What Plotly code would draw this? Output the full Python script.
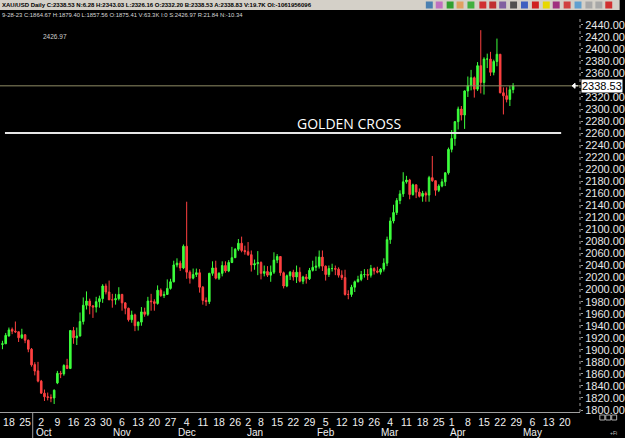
import plotly.graph_objects as go
import pandas as pd

# ---------------- data ----------------
first_day = "2023-09-14"
axis_last_day = "2024-05-24"
holidays = ["2023-12-25", "2024-01-01", "2024-03-29"]

open_ = [
    1909, 1910,
    1923, 1934, 1931, 1930, 1920,
    1925, 1916, 1901, 1875.41, 1865,
    1848, 1828, 1822, 1821, 1820,
    1845, 1861, 1860, 1874, 1869,
    1932, 1920, 1923, 1947, 1974,
    1981, 1973, 1971, 1980, 1985,
    2006, 1996, 1983, 1983, 1985,
    1992, 1978, 1969, 1950, 1958,
    1940, 1946, 1963, 1959, 1981,
    1980, 1977, 1999, 1990, 1992,
    2002, 2013, 2041, 2044, 2036,
    2072, 2029, 2019, 2025, 2028,
    2004, 1982, 1980, 2027, 2036,
    2019, 2027, 2040, 2031, 2045,
    2053, 2067, 2077, 2065,
    2063, 2058, 2041, 2043,
    2045, 2027, 2030, 2024, 2029,
    2049, 2055, 2028, 2006, 2023,
    2029, 2021, 2029, 2014, 2021,
    2018, 2032, 2037, 2039, 2054,
    2039, 2025, 2035, 2035, 2034,
    2024, 2020, 1992, 1992, 2004,
    2013, 2017, 2025, 2025, 2024,
    2035, 2031, 2029, 2034, 2044,
    2083, 2114, 2128, 2148, 2159,
    2179, 2182, 2158, 2174, 2162,
    2155, 2160, 2157, 2186, 2181,
    2165, 2172, 2179, 2194,
    2233, 2251, 2279, 2300, 2290,
    2330, 2339, 2352, 2333, 2372,
    2344, 2383, 2383, 2361, 2379,
    2391, 2327, 2322, 2316, 2332.20,
]
high_ = [
    1915, 1928,
    1937, 1937, 1947, 1930, 1935,
    1926, 1917, 1903, 1879.40, 1880,
    1850, 1834, 1829, 1826, 1834,
    1865, 1865, 1876, 1885, 1933,
    1938, 1937, 1962, 1987, 1997,
    1985, 1974, 1988, 1990, 2009,
    2010, 2015, 1993, 1993, 2004,
    1993, 1979, 1970, 1965, 1960,
    1947, 1971, 1970, 1988, 1993,
    1984, 2007, 2002, 1997, 2017,
    2018, 2048, 2052, 2048, 2075,
    2146, 2032, 2035, 2035, 2034,
    2006, 1987, 2028, 2047, 2048,
    2029, 2047, 2047, 2049, 2071,
    2069, 2084, 2088, 2073,
    2079, 2065, 2050, 2064,
    2047, 2040, 2039, 2040, 2062,
    2059, 2055, 2030, 2025, 2031,
    2033, 2040, 2037, 2023, 2026,
    2036, 2048, 2055, 2065, 2065,
    2040, 2040, 2043, 2040, 2037,
    2032, 2033, 1999, 2008, 2015,
    2023, 2031, 2034, 2034, 2041,
    2037, 2038, 2036, 2052, 2088,
    2120, 2141, 2152, 2165, 2195,
    2189, 2184, 2176, 2175, 2168,
    2164, 2163, 2189, 2222, 2181,
    2175, 2184, 2195, 2236,
    2265, 2280, 2304, 2305, 2331,
    2354, 2365, 2354, 2378, 2431,
    2386, 2392, 2395, 2382, 2417,
    2391, 2336, 2336, 2338, 2343.03,
]
low_ = [
    1901, 1910,
    1922, 1926, 1928, 1913, 1918,
    1911, 1896, 1872, 1857.56, 1846,
    1827, 1815, 1816, 1813, 1810,
    1843, 1853, 1857, 1868, 1868,
    1910, 1908, 1922, 1942, 1967,
    1959, 1953, 1962, 1970, 1978,
    1992, 1985, 1970, 1975, 1982,
    1965, 1959, 1947, 1945, 1931,
    1932, 1940, 1955, 1956, 1965,
    1965, 1975, 1988, 1986, 1991,
    2000, 2012, 2037, 2031, 2034,
    2018, 2010, 2017, 2021, 1995,
    1975, 1973, 1976, 2023, 2017,
    2016, 2022, 2028, 2029, 2044,
    2053, 2064, 2062, 2058,
    2056, 2030, 2033, 2024,
    2017, 2022, 2021, 2013, 2026,
    2044, 2023, 2002, 2004, 2016,
    2015, 2011, 2012, 2009, 2010,
    2016, 2030, 2031, 2035, 2031,
    2015, 2021, 2030, 2024, 2020,
    2016, 1990, 1984, 1988, 1996,
    2012, 2014, 2020, 2016, 2020,
    2025, 2027, 2025, 2030, 2039,
    2076, 2110, 2124, 2142, 2154,
    2176, 2150, 2156, 2152, 2153,
    2146, 2146, 2146, 2179, 2156,
    2162, 2170, 2172, 2191,
    2228, 2239, 2266, 2281, 2267,
    2320, 2331, 2319, 2330, 2326,
    2324, 2368, 2355, 2356, 2371,
    2326, 2291, 2311, 2305, 2326.16,
]
close_ = [
    1910, 1924,
    1933, 1931, 1930, 1920, 1925,
    1916, 1901, 1875, 1864.67, 1848,
    1828, 1822, 1821, 1820, 1833,
    1861, 1860, 1874, 1869, 1932,
    1920, 1923, 1947, 1974, 1981,
    1973, 1971, 1980, 1985, 2006,
    1996, 1983, 1983, 1985, 1992,
    1978, 1969, 1950, 1958, 1940,
    1946, 1963, 1959, 1981, 1980,
    1977, 1999, 1990, 1992, 2002,
    2013, 2041, 2044, 2036, 2072,
    2029, 2019, 2025, 2028, 2004,
    1982, 1980, 2027, 2036, 2019,
    2027, 2040, 2031, 2045, 2053,
    2067, 2077, 2065, 2063,
    2058, 2041, 2043, 2045,
    2027, 2030, 2024, 2029, 2049,
    2055, 2028, 2006, 2023, 2029,
    2021, 2029, 2014, 2021, 2018,
    2032, 2037, 2039, 2054, 2039,
    2025, 2035, 2035, 2034, 2024,
    2020, 1992, 1992, 2004, 2013,
    2017, 2025, 2025, 2024, 2035,
    2031, 2029, 2034, 2044, 2083,
    2114, 2128, 2148, 2159, 2179,
    2182, 2158, 2174, 2162, 2155,
    2160, 2157, 2186, 2181, 2165,
    2172, 2179, 2194, 2233,
    2251, 2279, 2300, 2290, 2330,
    2339, 2352, 2333, 2372, 2344,
    2383, 2383, 2361, 2379, 2391,
    2327, 2322, 2316, 2332, 2338.53,
]

week_label_dates = [
    "2023-09-18", "2023-09-25", "2023-10-02", "2023-10-09", "2023-10-16",
    "2023-10-23", "2023-10-30", "2023-11-06", "2023-11-13", "2023-11-20",
    "2023-11-27", "2023-12-04", "2023-12-11", "2023-12-18", "2023-12-26",
    "2024-01-02", "2024-01-08", "2024-01-15", "2024-01-22", "2024-01-29",
    "2024-02-05", "2024-02-12", "2024-02-19", "2024-02-26", "2024-03-04",
    "2024-03-11", "2024-03-18", "2024-03-25", "2024-04-01", "2024-04-08",
    "2024-04-15", "2024-04-22", "2024-04-29", "2024-05-06", "2024-05-13",
    "2024-05-20",
]
month_label_dates = ["2023-10-03", "2023-11-06", "2023-12-04", "2024-01-04",
                     "2024-02-05", "2024-03-04", "2024-04-03", "2024-05-06"]
month_label_text = ["Oct", "Nov", "Dec", "Jan", "Feb", "Mar", "Apr", "May"]

last_price = 2338.53
golden_cross_level = 2260
y_ticks = list(range(1800, 2441, 20))

header_text = ("XAU/USD Daily C:2338.53 N:6.28 H:2343.03 L:2326.16 O:2332.20 "
               "B:2338.53 A:2338.83 V:19.7K OI:-1061956096")
cursor_text = ("9-28-23 C:1864.67 H:1879.40 L:1857.56 O:1875.41 V:63.3K I:0 "
               "S:2426.97 R:21.84 N:-10.34")

# ---------------- derived ----------------
days = pd.bdate_range(first_day, axis_last_day, freq="C", holidays=holidays)
day_str = [d.strftime("%Y-%m-%d") for d in days]
n = len(close_)
x_idx = list(range(n))
tickvals = [day_str.index(d) for d in week_label_dates]
ticktext = [str(int(d[-2:])) for d in week_label_dates]

W, H = 625, 438
ML, MR, MT, MB = 0, 40, 18, 26
PW, PH = W - ML - MR, H - MT - MB
Y0, Y1 = 1796.7, 2451.2


def px_x(px):
    return (px - ML) / PW


def px_y(py):
    return (H - MB - py) / PH


fig = go.Figure()
fig.add_trace(go.Candlestick(
    x=x_idx, open=open_, high=high_, low=low_, close=close_,
    increasing=dict(line=dict(color="#3cff3c", width=1), fillcolor="#3cff3c"),
    decreasing=dict(line=dict(color="#ff4040", width=1), fillcolor="#ff4040"),
    hoverinfo="skip", showlegend=False,
))

ytick_vals = [v for v in y_ticks if v != 2340]
fig.update_layout(
    width=W, height=H, autosize=False,
    margin=dict(l=ML, r=MR, t=MT, b=MB, pad=0),
    paper_bgcolor="black", plot_bgcolor="black",
    showlegend=False, hovermode=False,
    font=dict(family="Liberation Sans, Arial", color="white"),
    xaxis=dict(
        range=[-0.76, 178.7], rangeslider=dict(visible=False),
        tickmode="array", tickvals=tickvals, ticktext=ticktext,
        tickfont=dict(size=10.5, color="#f0f0f0"), ticks="",
        showgrid=False, zeroline=False, showline=True,
        linecolor="#a0a0a0", linewidth=1,
    ),
    yaxis=dict(
        side="right", range=[Y0, Y1],
        tickmode="array", tickvals=ytick_vals,
        ticktext=[f"{v:.2f}" for v in ytick_vals],
        tickfont=dict(size=11, color="#e8e8e8"),
        ticks="outside", ticklen=2, tickcolor="#a0a0a0",
        showgrid=False, zeroline=False, showline=False,
    ),
)

shapes = []
annotations = []
# right dotted axis line
shapes.append(dict(type="line", xref="paper", yref="paper", x0=1, x1=1, y0=0, y1=1,
                   line=dict(color="#a0a0a0", width=1, dash="dot")))
# last price line
shapes.append(dict(type="line", xref="paper", yref="y", x0=0, x1=1,
                   y0=last_price, y1=last_price, line=dict(color="#8f8c66", width=1)))
# golden cross line
shapes.append(dict(type="line", xref="paper", yref="y", x0=px_x(5), x1=px_x(566),
                   y0=golden_cross_level, y1=golden_cross_level,
                   line=dict(color="#e6e6e6", width=2)))
annotations.append(dict(text="GOLDEN CROSS", xref="paper", yref="y", x=px_x(352),
                        y=golden_cross_level, yanchor="bottom", xanchor="center",
                        yshift=-2, showarrow=False,
                        font=dict(family="Open Sans", size=14, color="white")))
# price box
annotations.append(dict(text="2338.53", xref="paper", yref="y", x=1, y=last_price,
                        xanchor="left", yanchor="middle", xshift=1, showarrow=False,
                        bgcolor="white", borderpad=0,
                        font=dict(size=11, color="black")))
# small arrow to price box
ya = (last_price - Y0) / (Y1 - Y0)
dy = 2.5 / PH
shapes.append(dict(type="path", xref="paper", yref="paper",
                   path=f"M {px_x(577)} {ya} L {px_x(580)} {ya+dy} L {px_x(580)} {ya-dy} Z",
                   fillcolor="white", line=dict(color="white", width=1)))
shapes.append(dict(type="line", xref="paper", yref="paper", x0=px_x(579), x1=px_x(583),
                   y0=ya, y1=ya, line=dict(color="white", width=1)))
# header bar
shapes.append(dict(type="rect", xref="paper", yref="paper", x0=px_x(0), x1=px_x(W),
                   y0=px_y(10), y1=px_y(0), fillcolor="#d4d0c8", line=dict(width=0),
                   layer="above"))
annotations.append(dict(text="<b>" + header_text + "</b>", xref="paper", yref="paper",
                        x=px_x(0), y=px_y(5), xanchor="left", yanchor="middle",
                        showarrow=False, font=dict(size=6, color="black")))
annotations.append(dict(text=cursor_text, xref="paper", yref="paper",
                        x=px_x(0), y=px_y(15), xanchor="left", yanchor="middle",
                        showarrow=False, font=dict(size=5.9, color="#d8d8d8")))
annotations.append(dict(text="2426.97", xref="paper", yref="paper",
                        x=px_x(41), y=px_y(37), xanchor="left", yanchor="middle",
                        showarrow=False, font=dict(size=6.5, color="#cfcfcf")))
# toolbar icons
icon_px = [433, 443, 454, 464, 475, 487, 497, 507, 518, 529, 540, 551, 561, 572, 583, 594, 604, 614]
icon_col = ["#4a7fb0", "#c070c0", "#30a030", "#e0a060", "#40b040", "#d03030", "#c03030",
            "#8060a0", "#505050", "#4060c0", "#d02020", "#e8d800", "#a03080", "#d04040",
            "#60a0d0", "#a8a8a8", "#a8a8a8", "#d03030"]
for cx, col in zip(icon_px, icon_col):
    shapes.append(dict(type="rect", xref="paper", yref="paper", x0=px_x(cx - 3.5),
                       x1=px_x(cx + 3.5), y0=px_y(8.5), y1=px_y(1.5),
                       fillcolor=col, line=dict(width=0), layer="above"))
# separator in date area
shapes.append(dict(type="line", xref="paper", yref="paper", x0=px_x(33), x1=px_x(33),
                   y0=px_y(413), y1=px_y(438), line=dict(color="#a0a0a0", width=1)))
# month labels
for d, t in zip(month_label_dates, month_label_text):
    annotations.append(dict(text=t, xref="x", yref="paper", x=day_str.index(d),
                            y=px_y(432.5), xanchor="center", yanchor="middle",
                            showarrow=False, font=dict(size=10, color="#f0f0f0")))
# bottom-right small boxes
for bx in [605, 611, 617]:
    shapes.append(dict(type="rect", xref="paper", yref="paper", x0=px_x(bx),
                       x1=px_x(bx + 5), y0=px_y(420), y1=px_y(415),
                       line=dict(color="#b0b0b0", width=1)))
annotations.append(dict(text="+Fi", xref="paper", yref="paper", x=px_x(624), y=px_y(433),
                        xanchor="right", yanchor="middle", showarrow=False,
                        font=dict(size=5, color="#c0c0c0")))

fig.update_layout(shapes=shapes, annotations=annotations)
fig.write_html("out.html", config={"displayModeBar": False},
               post_script="document.body.style.margin='0';document.body.style.background='black';")
